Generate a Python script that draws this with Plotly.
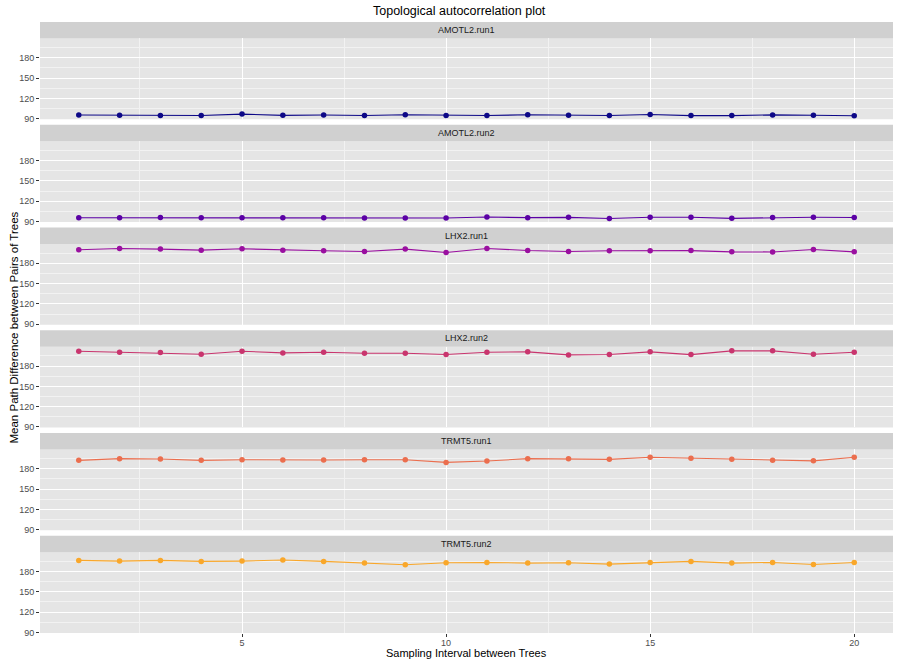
import plotly.graph_objects as go
from plotly.subplots import make_subplots

intervals = list(range(1, 21))
facet_names = ["AMOTL2.run1", "AMOTL2.run2", "LHX2.run1", "LHX2.run2", "TRMT5.run1", "TRMT5.run2"]

amotl2_run1 = [95.5, 95.3, 94.8, 94.7, 96.8, 95.0, 95.4, 94.7, 95.8, 94.9,
               94.8, 95.8, 95.1, 94.7, 96.3, 94.6, 94.6, 95.6, 95.2, 94.3]
amotl2_run2 = [95.5, 95.4, 95.8, 95.3, 95.4, 95.4, 95.4, 95.2, 95.1, 95.1,
               96.6, 95.6, 96.1, 94.3, 96.3, 96.2, 94.6, 95.7, 96.2, 95.8]
lhx2_run1 = [200.0, 202.0, 201.0, 199.5, 201.5, 199.5, 198.5, 197.5, 201.0, 196.0,
             202.0, 199.0, 197.5, 198.5, 198.5, 198.8, 197.0, 196.8, 200.5, 197.0]
lhx2_run2 = [202.0, 200.5, 200.0, 197.5, 202.0, 199.5, 200.5, 199.0, 199.0, 197.0,
             200.5, 201.0, 196.5, 197.0, 201.0, 197.0, 202.5, 202.5, 197.5, 200.5]
trmt5_run1 = [192.5, 195.0, 194.5, 192.5, 193.5, 193.0, 193.0, 193.5, 193.5, 189.5,
              191.5, 195.0, 195.0, 194.0, 197.0, 195.5, 194.0, 192.5, 191.8, 197.0]
trmt5_run2 = [196.5, 195.5, 196.5, 195.0, 195.5, 197.0, 195.0, 192.5, 190.0, 193.0,
              193.5, 192.5, 193.0, 191.0, 193.5, 195.0, 192.5, 193.5, 190.5, 193.5]

series = [amotl2_run1, amotl2_run2, lhx2_run1, lhx2_run2, trmt5_run1, trmt5_run2]
colors = ["#0D0887", "#5B01A5", "#9A0FA0", "#C9356E", "#EB6E4E", "#F9A72A"]

x_ticks = [5, 10, 15, 20]
x_minor = [2.5, 7.5, 12.5, 17.5]
y_ticks = [90, 120, 150, 180]
y_minor = [105, 135, 165, 195]

W, H = 897, 665
L, R, T, B = 40, 4, 22, 31.5
PH = H - T - B
FONT = "Liberation Sans, Arial, Helvetica, sans-serif"

def fy(py):
    return 1 - (py - T) / PH

def fx(px):
    return (px - L) / (W - L - R)

fig = make_subplots(rows=6, cols=1, shared_xaxes=True)
shapes = []
annotations = []
for i, (name, vals, col) in enumerate(zip(facet_names, series, colors)):
    fig.add_trace(go.Scatter(x=intervals, y=vals, mode="lines+markers",
                             line=dict(color=col, width=1.1),
                             marker=dict(color=col, size=5.5),
                             showlegend=False, hoverinfo="x+y"),
                  row=i + 1, col=1)
    strip_top = T + i * 102.83
    panel_top = strip_top + 16.5
    panel_bot = strip_top + 97.33
    sfx = "" if i == 0 else str(i + 1)
    fig.layout["yaxis" + sfx].domain = [fy(panel_bot), fy(panel_top)]
    last = (i == 5)
    fig.layout["xaxis" + sfx].update(
        range=[0.05, 20.95], tickvals=x_ticks, showgrid=True, gridcolor="white",
        gridwidth=1.1, zeroline=False, showline=False,
        minor=dict(tickvals=x_minor, showgrid=True, gridcolor="#F2F2F2", gridwidth=0.55),
        showticklabels=last, ticks="outside" if last else "", ticklen=3,
        tickcolor="#333333", tickwidth=1, ticklabelstandoff=-2,
        tickfont=dict(family=FONT, size=9, color="#4D4D4D"))
    fig.layout["yaxis" + sfx].update(
        range=[89.2, 208.6], tickvals=y_ticks, showgrid=True, gridcolor="white",
        gridwidth=1.1, zeroline=False, showline=False,
        minor=dict(tickvals=y_minor, showgrid=True, gridcolor="#F2F2F2", gridwidth=0.55),
        ticks="outside", ticklen=3, tickcolor="#333333", tickwidth=1,
        tickfont=dict(family=FONT, size=9, color="#4D4D4D"))
    shapes.append(dict(type="rect", xref="paper", yref="paper", x0=0, x1=1,
                       y0=fy(panel_top), y1=fy(strip_top), fillcolor="#D0D0D0",
                       line=dict(width=0), layer="below"))
    annotations.append(dict(text=name, xref="paper", yref="paper", x=0.5,
                            y=(fy(panel_top) + fy(strip_top)) / 2, xanchor="center",
                            yanchor="middle", showarrow=False,
                            font=dict(family=FONT, size=9, color="#1A1A1A")))

annotations.append(dict(text="Topological autocorrelation plot", xref="paper", yref="paper",
                        x=fx(459), y=fy(11), xanchor="center", yanchor="middle",
                        showarrow=False, font=dict(family=FONT, size=12.5, color="black")))
annotations.append(dict(text="Sampling Interval between Trees", xref="paper", yref="paper",
                        x=0.5, y=fy(654), xanchor="center", yanchor="middle",
                        showarrow=False, font=dict(family=FONT, size=11, color="black")))
annotations.append(dict(text="Mean Path Difference between Pairs of Trees", xref="paper",
                        yref="paper", x=fx(13), y=fy((T + H - B) / 2), xanchor="center",
                        yanchor="middle", textangle=-90, showarrow=False,
                        font=dict(family=FONT, size=11.5, color="black")))

fig.update_layout(width=W, height=H, margin=dict(l=L, r=R, t=T, b=B, pad=0),
                  plot_bgcolor="#E5E5E5", paper_bgcolor="white",
                  shapes=shapes, annotations=annotations, showlegend=False,
                  font=dict(family=FONT))
fig.write_html("out.html")
